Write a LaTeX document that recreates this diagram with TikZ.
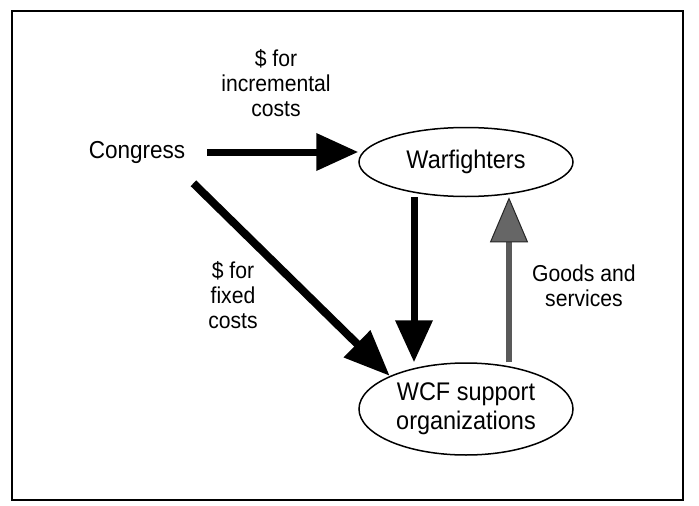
\documentclass[tikz,border=0pt]{standalone}
\usepackage{fontspec}
\setmainfont{Liberation Sans}[FakeStretch=0.92]
\usetikzlibrary{arrows.meta,shapes.geometric}
\tikzset{
  lbl/.style={align=center,inner sep=0pt,font=\fontsize{23}{25}\selectfont},
  oval/.style={ellipse,draw,line width=1.5pt,minimum width=214pt,inner sep=0pt,align=center,font=\fontsize{25.5}{29}\selectfont},
  bigarrow/.style={line width=7pt,-{Triangle[length=42pt,width=36pt]}},
  diagarrow/.style={line width=8pt,-{Triangle[length=46pt,width=36pt]}},
  grayarrow/.style={line width=6pt,draw=black!65,-{Triangle[length=45pt,width=38pt,color=black!85,fill=black!60,line width=1pt]}}
}
\begin{document}
\begin{tikzpicture}[x=1pt,y=-1pt]
\useasboundingbox (0,0) rectangle (699,506);
\draw[line width=1.3pt] (12,11) rectangle (683,500);
\node[font=\fontsize{24.5}{29}\selectfont,inner sep=0pt] (C) at (137,152) {Congress};
\node[oval,minimum height=69pt] (W) at (466,162) {Warfighters};
\node[oval,minimum height=92pt] (S) at (466,409) {WCF support\\organizations};
\node[lbl] (L1) at (276,83) {\$ for\\incremental\\costs};
\node[lbl] (L2) at (233,295) {\$ for\\fixed\\costs};
\node[lbl] (L3) at (584,286) {Goods and\\services};
\draw[bigarrow] ([xshift=22pt]C.east) -- (W.west |- C.east);
\draw[diagarrow] ([shift={(8pt,-20pt)}]C.south east) -- (S.north west);
\draw[bigarrow] ([xshift=-52pt]W.south) -- ([xshift=-52pt]S.north);
\draw[grayarrow] ([xshift=43pt]S.north) -- ([xshift=43pt]W.south);
\end{tikzpicture}
\end{document}
